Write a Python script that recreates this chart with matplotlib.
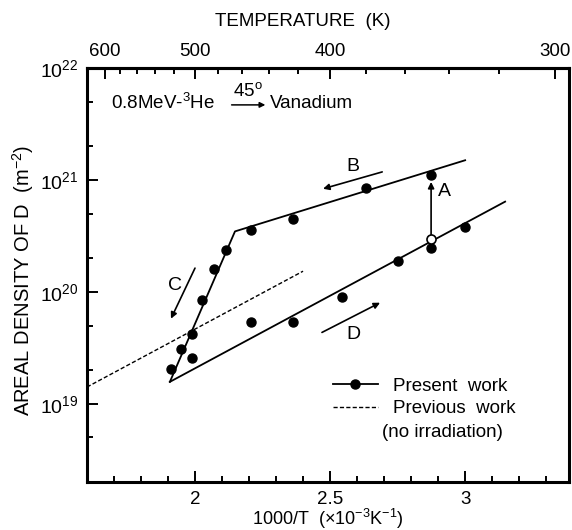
import numpy as np
import matplotlib.pyplot as plt
from matplotlib.lines import Line2D
from matplotlib.ticker import FixedLocator, FuncFormatter, NullFormatter, LogLocator

plt.rcParams['font.family'] = ['Liberation Sans', 'DejaVu Sans']
plt.rcParams['mathtext.fontset'] = 'custom'
plt.rcParams['mathtext.rm'] = 'Liberation Sans'
plt.rcParams['mathtext.it'] = 'Liberation Sans:italic'
plt.rcParams['mathtext.default'] = 'regular'
plt.rcParams['font.size'] = 13.5

# measured points: 1000/T vs areal density of D (m^-2)
pts_x = [1.911, 1.948, 1.989, 1.989, 2.027, 2.070, 2.115, 2.207, 2.363, 2.633, 2.874,
         2.207, 2.363, 2.544, 2.752, 2.874, 3.000]
pts_y = [2.04e19, 3.1e19, 4.16e19, 2.55e19, 8.5e19, 1.6e20, 2.35e20, 3.6e20, 4.5e20, 8.5e20, 1.1e21,
         5.4e19, 5.4e19, 9.0e19, 1.88e20, 2.45e20, 3.76e20]
open_x = [2.874]
open_y = [2.94e20]

# fitted lines
upper_x = [1.907, 2.148, 3.0]
upper_y = [1.57e19, 3.47e20, 1.5e21]
lower_x = [1.907, 3.148]
lower_y = [1.57e19, 6.4e20]
prev_x = [1.6, 2.4]
prev_y = [1.41e19, 1.53e20]

# arrows A-D (start, end, label position)
arrow_names = ['A', 'B', 'C', 'D']
arrow_from = [(2.874, 3.26e20), (2.693, 1.18e21), (2.000, 1.63e20), (2.470, 4.34e19)]
arrow_to = [(2.874, 9.6e20), (2.474, 8.34e20), (1.911, 5.76e19), (2.685, 8.0e19)]
arrow_lbl = [(2.925, 7.9e20), (2.585, 1.32e21), (1.926, 1.13e20), (2.585, 4.2e19)]

temp_major = [600, 500, 400, 300]
temp_minor = [580, 560, 540, 520, 480, 460, 440, 420, 380, 360, 340, 320]

fig = plt.figure(figsize=(5.72, 5.30), dpi=100)
ax = fig.add_axes([0.152, 0.0906, 0.843, 0.781])

ax.plot(upper_x, upper_y, color='black', lw=1.3)
ax.plot(lower_x, lower_y, color='black', lw=1.3)
ax.plot(prev_x, prev_y, color='black', lw=1.0, dashes=(3, 1.6))
ax.plot(pts_x, pts_y, 'o', color='black', ms=6.5, zorder=3)
ax.plot(open_x, open_y, 'o', mfc='white', mec='black', mew=1.2, ms=6.5, zorder=4)

for name, p0, p1, pl in zip(arrow_names, arrow_from, arrow_to, arrow_lbl):
    ax.annotate('', xy=p1, xytext=p0,
                arrowprops=dict(arrowstyle='-|>', color='black', lw=1.2,
                                mutation_scale=9, shrinkA=0, shrinkB=0))
    ax.text(pl[0], pl[1], name, ha='center', va='center', fontsize=14)

ax.set_yscale('log')
ax.set_xlim(1.6, 3.385)
ax.set_ylim(2e18, 1e22)

ax.xaxis.set_major_locator(FixedLocator([2, 2.5, 3]))
ax.xaxis.set_minor_locator(FixedLocator(np.arange(1.7, 3.35, 0.1)))
ax.xaxis.set_major_formatter(FuncFormatter(lambda v, p: '%g' % v))
ax.yaxis.set_major_locator(LogLocator(base=10, numticks=10))
ax.yaxis.set_minor_locator(LogLocator(base=10, subs=(2, 5), numticks=10))
ax.yaxis.set_minor_formatter(NullFormatter())

ax.tick_params(which='both', direction='in', top=False, right=False, width=1.4)
ax.tick_params(which='major', length=8, pad=6)
ax.tick_params(which='minor', length=4.3)
ax.tick_params(axis='x', which='major', pad=6.5)
ax.tick_params(axis='y', which='major', labelsize=14)
for s in ax.spines.values():
    s.set_linewidth(2.2)

ax.set_xlabel(r'1000/T  ($\times$10$^{-3}$K$^{-1}$)', labelpad=-1, fontsize=13)
ax.set_ylabel(r'AREAL DENSITY OF D  (m$^{-2}$)', labelpad=3, fontsize=14.5, y=0.488)

top = ax.secondary_xaxis('top', functions=(lambda x: 1000 / x, lambda t: 1000 / t))
top.xaxis.set_major_locator(FixedLocator(temp_major))
top.xaxis.set_minor_locator(FixedLocator(temp_minor))
top.xaxis.set_major_formatter(FuncFormatter(lambda v, p: '%d' % v))
top.tick_params(which='both', direction='in', width=1.4)
top.tick_params(which='major', length=8, pad=6)
top.tick_params(which='minor', length=4.3)
top.spines['top'].set_linewidth(2.2)
top.set_xlabel('TEMPERATURE  (K)', labelpad=12, x=0.448)

# incident beam note
ax.text(0.05, 0.915, r'0.8MeV-$^{3}$He', transform=ax.transAxes, ha='left', va='center')
ax.annotate('', xy=(0.37, 0.911), xytext=(0.300, 0.911), xycoords='axes fraction',
            arrowprops=dict(arrowstyle='-|>', color='black', lw=1.1, mutation_scale=8,
                            shrinkA=0, shrinkB=0))
ax.text(0.334, 0.945, r'45$^{o}$', transform=ax.transAxes, ha='center', va='center')
ax.text(0.38, 0.915, 'Vanadium', transform=ax.transAxes, ha='left', va='center')

handles = [Line2D([], [], color='black', lw=1.3, marker='o', ms=6.5),
           Line2D([], [], color='black', lw=1.0, dashes=(3, 1.6))]
ax.legend(handles, ['Present  work', 'Previous  work'],
          loc='upper left', bbox_to_anchor=(0.49, 0.275), frameon=False,
          handlelength=2.4, handletextpad=0.8, labelspacing=0.3, borderpad=0)
ax.text(0.612, 0.12, '(no irradiation)', transform=ax.transAxes, ha='left', va='center')

fig.savefig('out.png', dpi=100)
